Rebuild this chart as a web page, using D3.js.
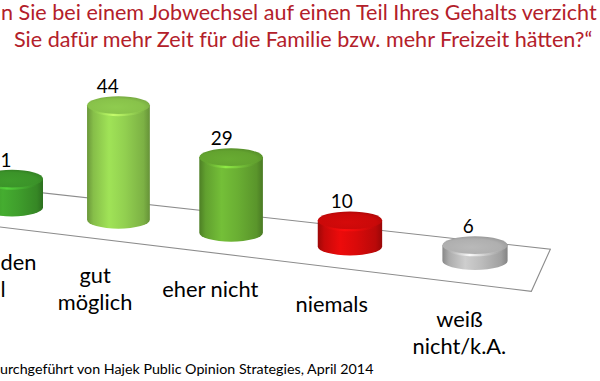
<!DOCTYPE html>
<html>
<head>
<meta charset="utf-8">
<script src="https://cdnjs.cloudflare.com/ajax/libs/d3/7.8.5/d3.min.js"></script>
<style>
  html, body { margin: 0; padding: 0; background: #ffffff; }
  svg { display: block; }
  text { font-family: Lato, "Open Sans", sans-serif; }
</style>
</head>
<body>
<svg id="chart" width="600" height="381"></svg>
<script>
// ---- data ----
const categories = ["auf jeden\nFall", "gut\nmöglich", "eher nicht", "niemals", "weiß\nnicht/k.A."];
const values = [11, 44, 29, 10, 6];
const barColors = ["#3f9e2c", "#92d050", "#6aaf33", "#d90a0a", "#bcbcbc"];
const titleLines = [
  "n Sie bei einem Jobwechsel auf einen Teil Ihres Gehalts verzicht",
  "Sie dafür mehr Zeit für die Familie bzw. mehr Freizeit hätten?“"
];
const footerText = "urchgeführt von Hajek Public Opinion Strategies, April 2014";

// ---- layout ----
const W = 600, H = 381;
const svg = d3.select("#chart");
const defs = svg.append("defs");

// category position along the (perspective) floor
const xLin = d3.scaleLinear().domain([0, categories.length - 1]).range([12, 475]);
const px = i => xLin(i) + 3.1 * i * (i - (categories.length - 1));
// value -> bar height in px
const hScale = d3.scaleLinear().domain([0, 44]).range([0, 114.4]);

const backY = x => 188.1 + 0.111 * x;
const frontY = x => 227 + 0.121 * x;
const baseY = x => backY(x) + 0.46 * (frontY(x) - backY(x));

// ---- floor ----
const iL = -0.75, iR = 4.58;
const bxL = px(iL), bxR = px(iR);
const fxL = bxL - 19, fxR = bxR - 19;
svg.append("path")
  .attr("d", `M${bxL},${backY(bxL)} L${bxR},${backY(bxR)} L${fxR},${frontY(fxR)} L${fxL},${frontY(fxL)} Z`)
  .attr("fill", "#ffffff")
  .attr("stroke", "#8c8c8c")
  .attr("stroke-width", 1.1);

// ---- gradients ----
barColors.forEach((c, i) => {
  const col = d3.color(c);
  const g = defs.append("linearGradient").attr("id", "body" + i)
    .attr("x1", "0%").attr("x2", "100%").attr("y1", "0%").attr("y2", "0%");
  g.append("stop").attr("offset", "0%").attr("stop-color", col.darker(0.9));
  g.append("stop").attr("offset", "10%").attr("stop-color", col.darker(0.25));
  g.append("stop").attr("offset", "35%").attr("stop-color", col.brighter(0.25));
  g.append("stop").attr("offset", "60%").attr("stop-color", col);
  g.append("stop").attr("offset", "90%").attr("stop-color", col.darker(0.45));
  g.append("stop").attr("offset", "100%").attr("stop-color", col.darker(1.0));

  const t = defs.append("radialGradient").attr("id", "top" + i)
    .attr("cx", "45%").attr("cy", "60%").attr("r", "60%");
  t.append("stop").attr("offset", "0%").attr("stop-color", col.darker(0.05));
  t.append("stop").attr("offset", "75%").attr("stop-color", col.darker(0.2));
  t.append("stop").attr("offset", "100%").attr("stop-color", col.darker(0.55));

  const hl = defs.append("linearGradient").attr("id", "hl" + i)
    .attr("x1", "0%").attr("x2", "100%");
  hl.append("stop").attr("offset", "0%").attr("stop-color", col.brighter(0.2)).attr("stop-opacity", 0);
  hl.append("stop").attr("offset", "40%").attr("stop-color", col.brighter(0.9)).attr("stop-opacity", 0.9);
  hl.append("stop").attr("offset", "100%").attr("stop-color", col.brighter(0.2)).attr("stop-opacity", 0);
});

// ---- bars (cylinders) ----
const bars = svg.append("g");
values.forEach((v, i) => {
  const cx = px(i);
  const rx = 31 + 0.4 * i;
  const ry = 9;
  const yb = baseY(cx);
  const yt = yb - hScale(v);
  const g = bars.append("g");
  g.append("path")
    .attr("d", `M${cx - rx},${yt} L${cx - rx},${yb} A${rx},${ry} 0 0 0 ${cx + rx},${yb} L${cx + rx},${yt} Z`)
    .attr("fill", `url(#body${i})`);
  g.append("ellipse")
    .attr("cx", cx).attr("cy", yt).attr("rx", rx).attr("ry", ry)
    .attr("fill", `url(#top${i})`);
  g.append("path")
    .attr("d", `M${cx - rx * 0.85},${yt + 3} A${rx * 0.85},${ry * 0.75} 0 0 0 ${cx + rx * 0.85},${yt + 3}`)
    .attr("fill", "none")
    .attr("stroke", `url(#hl${i})`)
    .attr("stroke-width", 2.2);
});

// ---- helpers ----
function measure(text, size) {
  const t = svg.append("text").attr("font-size", size).text(text);
  const w = t.node().getComputedTextLength();
  t.remove();
  return w;
}
function fitSize(text, targetWidth) {
  return 20 * targetWidth / measure(text, 20);
}
// Place a centred text; the part that would fall past the left page edge is
// trimmed (as in the cropped reference), keeping the visible right part.
function placeCentered(sel, text, x, y, size) {
  const w = measure(text, size);
  if (x - w / 2 >= 0) {
    sel.append("text").attr("x", x).attr("y", y).attr("text-anchor", "middle")
      .attr("font-size", size).attr("fill", "#000").text(text);
    return;
  }
  let right = x + w / 2;
  let s = text;
  while (s.length > 1 && measure(s, size) > right + 6) s = s.slice(1);
  s = s.replace(/^\s+/, "");
  right = Math.max(right, measure(s, size) + 0.5);
  sel.append("text").attr("x", right).attr("y", y).attr("text-anchor", "end")
    .attr("font-size", size).attr("fill", "#000").text(s);
}

// ---- value labels ----
const valSize = fitSize("44", 22);
const valG = svg.append("g");
values.forEach((d, i) => {
  placeCentered(valG, String(d), px(i) - 12 + 1.3 * i,
    baseY(px(i)) - hScale(d) - 9 - 3, valSize);
});

// ---- category labels ----
const catSize = fitSize("eher nicht", 96);
const catG = svg.append("g");
categories.forEach((d, i) => {
  const lx = px(i) - 26 + 2.6 * i;
  const ly = 272 + 0.12 * lx;
  d.split("\n").forEach((s, k) => placeCentered(catG, s, lx, ly + k * 27, catSize));
});

// ---- title ----
const titleSize = fitSize(titleLines[0], 596);
svg.append("g").selectAll("text").data(titleLines).join("text")
  .attr("x", (d, i) => i === 0 ? 1 : 14)
  .attr("y", (d, i) => 20 + i * 27)
  .attr("font-size", titleSize)
  .attr("fill", "#b3202a")
  .text(d => d);

// ---- footer ----
const footSize = fitSize(footerText, 374);
svg.append("text")
  .attr("x", 0).attr("y", 374)
  .attr("font-size", footSize)
  .attr("fill", "#000")
  .text(footerText);
</script>
</body>
</html>
